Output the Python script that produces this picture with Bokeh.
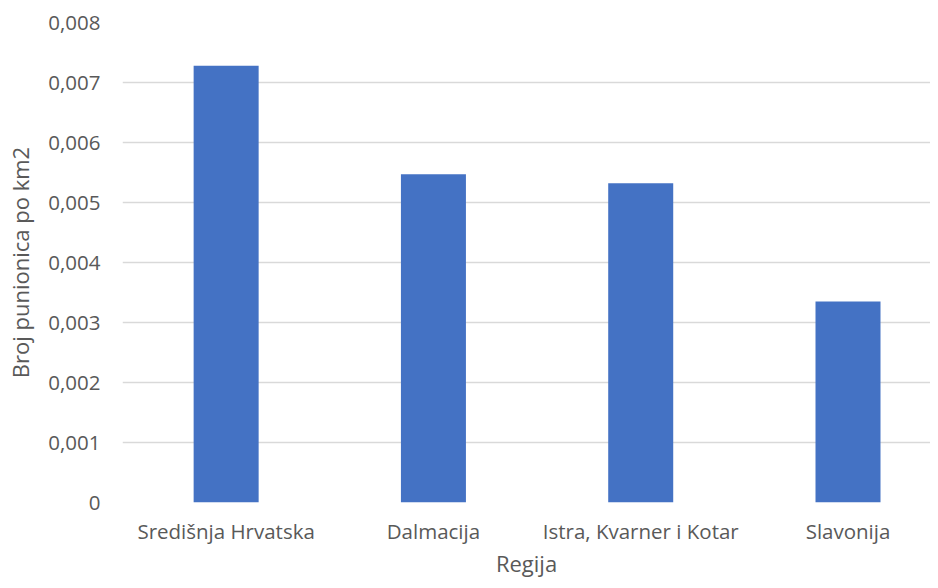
from bokeh.plotting import figure
from bokeh.models import Range1d, FixedTicker
from bokeh.embed import file_html
from bokeh.resources import INLINE

categories = ["Središnja Hrvatska", "Dalmacija", "Istra, Kvarner i Kotar", "Slavonija"]
values = [0.00728, 0.00547, 0.00532, 0.00335]
y_ticks = [0, 0.001, 0.002, 0.003, 0.004, 0.005, 0.006, 0.007, 0.008]
y_tick_labels = ["0", "0,001", "0,002", "0,003", "0,004", "0,005", "0,006", "0,007", "0,008"]
x_title = "Regija"
y_title = "Broj punionica po km2"

FONT = "Open Sans"
TXT = "#595959"

xs = [i + 0.5 for i in range(len(categories))]

p = figure(width=930, height=580, output_backend="svg", toolbar_location=None,
           x_range=Range1d(0, 3.898), y_range=Range1d(0, 0.008),
           min_border_left=122, min_border_right=0, min_border_top=22, min_border_bottom=76)
p.outline_line_color = None
p.background_fill_color = "white"
p.border_fill_color = "white"

p.vbar(x=xs, top=values, width=0.3136, bottom=0, color="#4472C4", line_color=None)

p.xgrid.grid_line_color = None
p.ygrid.grid_line_color = "#d9d9d9"
p.ygrid.grid_line_width = 1.5
p.ygrid.ticker = FixedTicker(ticks=y_ticks)
p.yaxis.ticker = FixedTicker(ticks=y_ticks)
p.yaxis.major_label_overrides = {t: l for t, l in zip(y_ticks, y_tick_labels)}
p.xaxis.ticker = FixedTicker(ticks=xs)
p.xaxis.major_label_overrides = {x: c for x, c in zip(xs, categories)}

for ax in (p.xaxis, p.yaxis):
    ax.axis_line_color = None
    ax.major_tick_line_color = None
    ax.minor_tick_line_color = None
    ax.major_tick_out = 0
    ax.major_tick_in = 0
    ax.major_label_text_font = FONT
    ax.major_label_text_font_size = "20.5px"
    ax.major_label_text_color = TXT
    ax.axis_label_text_font = FONT
    ax.axis_label_text_font_size = "22px"
    ax.axis_label_text_font_style = "normal"
    ax.axis_label_text_color = TXT

p.xaxis.axis_label = x_title
p.yaxis.axis_label = y_title
p.xaxis.major_label_standoff = 14
p.xaxis.axis_label_standoff = 0
p.yaxis.major_label_standoff = 22
p.yaxis.axis_label_standoff = 10

open("out.html", "w").write(file_html(p, INLINE))
